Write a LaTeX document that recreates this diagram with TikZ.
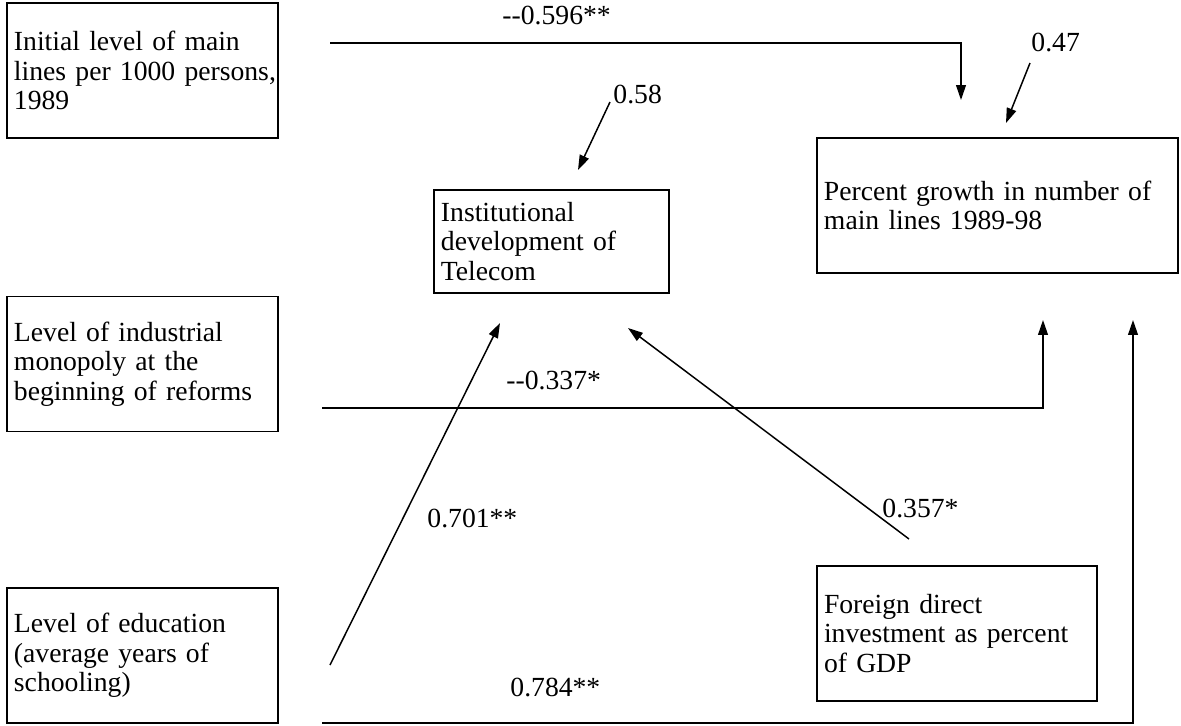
\documentclass[tikz,border=0pt]{standalone}
\usepackage{fontspec}
\setmainfont{Liberation Serif}
\usepackage{tikz}
\usetikzlibrary{arrows.meta}
\tikzset{
    var box/.style={
        draw,line width=0.7pt,
        inner xsep=3.3pt,inner ysep=0pt,
        align=left,
        font=\fontsize{13}{13.9}\selectfont
    },
    coef/.style={
        anchor=base west,inner sep=0pt,
        font=\fontsize{13}{13.9}\selectfont
    },
    effect/.style={line width=0.7pt,->},
    >={Triangle[length=7pt,width=4.6pt]}
}
\begin{document}
\begin{tikzpicture}[x=0.47pt,y=-0.47pt]
\useasboundingbox (0,0) rectangle (1181,725);
% left column
\foreach \nm/\cy/\txt in {init/70.5/{Initial level of main\\\mbox{lines per 1000 persons,}\\1989},
    mono/364/{Level of industrial\\monopoly at the\\\mbox{beginning of reforms}},
    edu/655.5/{Level of education\\(average years of\\schooling)}}
    \node[var box,minimum width=127.4pt,minimum height=63.4pt,text width=120.8pt] (\nm) at (142.5,\cy) {\txt};
\node[var box,minimum width=110.5pt,minimum height=48.4pt,text width=103.9pt] (inst) at (551.5,241.5) {Institutional\\development of\\Telecom};
\node[var box,minimum width=169.7pt,minimum height=63.4pt,text width=163.1pt] (growth) at (997.5,205.5) {\mbox{Percent growth in number of}\\main lines 1989-98};
\node[var box,minimum width=131.6pt,minimum height=63.4pt,text width=125pt] (fdi) at (957,633.5) {Foreign direct\\investment as percent\\of GDP};
% free ends
\coordinate (init-out) at (330,43);
\coordinate (growth-a) at (961,100);
\coordinate (mono-out) at (322,408);
\coordinate (growth-b) at (1043,320);
\coordinate (edu-out) at (322,723);
\coordinate (growth-c) at (1133,320);
\coordinate (edu-up) at (330,665);
\coordinate (inst-a) at (500,323);
\coordinate (fdi-out) at (909,539);
\coordinate (inst-b) at (628,328);
\coordinate (inst-err) at (610,102);
\coordinate (inst-c) at (578,170);
\coordinate (growth-err) at (1030,63);
\coordinate (growth-d) at (1006,123);
\draw[effect] (init-out) -| (growth-a);
\draw[effect] (mono-out) -| (growth-b);
\draw[effect] (edu-out) -| (growth-c);
\draw[effect] (edu-up) -- (inst-a);
\draw[effect] (fdi-out) -- (inst-b);
\draw[effect] (inst-err) -- (inst-c);
\draw[effect] (growth-err) -- (growth-d);
% coefficients
\node[coef] (c-init) at (502,24) {-{}-0.596**};
\node[coef] (c-mono) at (506,389) {-{}-0.337*};
\node[coef] (c-edu) at (510,696) {0.784**};
\node[coef] (c-edu-inst) at (427,527) {0.701**};
\node[coef] (c-fdi) at (882,517) {0.357*};
\node[coef] (e-inst) at (613,103) {0.58};
\node[coef] (e-growth) at (1031,51) {0.47};
\end{tikzpicture}
\end{document}
